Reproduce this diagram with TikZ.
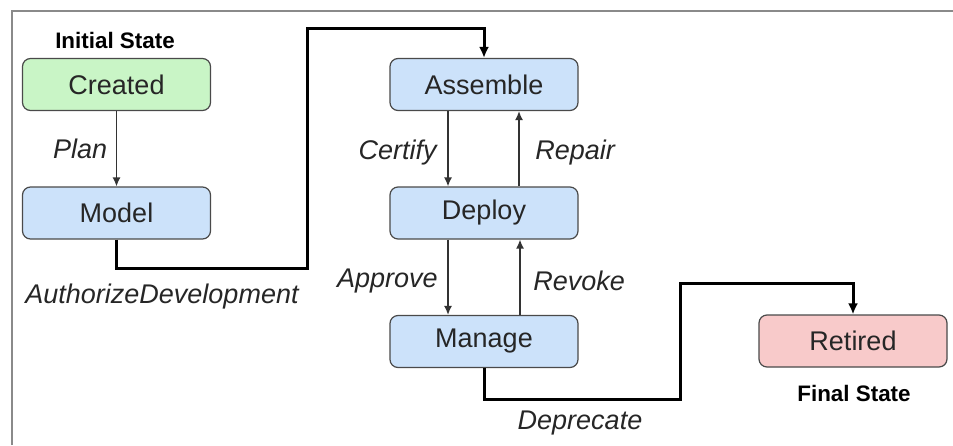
\documentclass[tikz,border=0pt]{standalone}
\usepackage{fontspec}
\setmainfont{Liberation Sans}
\usepackage{xcolor}
\usetikzlibrary{
	arrows.meta,
	positioning,
	calc
}

\definecolor{framegray}{HTML}{8A8A8A}
\definecolor{boxline}{HTML}{4A4A4A}
\definecolor{startfill}{HTML}{C9F5C6}
\definecolor{workfill}{HTML}{CCE2FA}
\definecolor{endfill}{HTML}{F8CACA}

\begin{document}
\begin{tikzpicture}[x=0.5pt,y=-0.5pt,>={Latex[length=4.5pt,width=4pt]},
		state/.style={draw=boxline,line width=0.6pt,rounded corners=4pt,
			minimum width=94pt,minimum height=26pt,inner sep=0pt,
			text=black!85,font=\fontsize{13.5}{16}\selectfont},
		trans/.style={font=\fontsize{13.5}{16}\selectfont\itshape,text=black!85},
		tag/.style={font=\fontsize{11.2}{13}\selectfont\bfseries},
		step arrow/.style={->,draw=black!80,line width=0.7pt},
		jump arrow/.style={-{Latex[length=5.5pt,width=5pt]},line width=1.5pt}]
				
				\useasboundingbox (0,0) rectangle (953,445);
				
				% Frame
				\draw[framegray,line width=1pt] (12,445) -- (12,11) -- (953,11);
				
				% Left column
				\node[state,fill=startfill] (created) at (116.5,84.5) {Created};
				\node[state,fill=workfill] (model) at (116.5,213) {Model};
				\node[tag] (initial) at (115,40) {Initial State};
				
				\draw[step arrow] (created) -- node[trans,left=1pt] {Plan} (model);
				
				% Middle column
				\node[state,fill=workfill] (assemble) at (484,84.5) {Assemble};
				\node[state,fill=workfill] (deploy) at (484,213) {Deploy};
				\node[state,fill=workfill] (manage) at (484,341.5) {Manage};
				
				\draw[step arrow] ([xshift=-18pt]assemble.south) -- node[trans,left=2pt,yshift=-2pt] {Certify} ([xshift=-18pt]deploy.north);
				\draw[step arrow] ([xshift=17.5pt]deploy.north) -- node[trans,right=4.5pt,yshift=-2pt] {Repair} ([xshift=17.5pt]assemble.south);
				\draw[step arrow] ([xshift=-18pt]deploy.south) -- node[trans,left=1.5pt,yshift=-2pt] {Approve} ([xshift=-18pt]manage.north);
				\draw[step arrow] ([xshift=18pt]manage.north) -- node[trans,right=3pt,yshift=-2pt] {Revoke} ([xshift=18pt]deploy.south);
				
				% Right column
				\node[state,fill=endfill] (retired) at (853,341) {Retired};
				\node[tag] (final) at (854,393) {Final State};
				
				% Long transitions
				\coordinate (devtop) at (307,28);
				\coordinate (deptop) at (680,283);
				
				\draw[jump arrow] (model.south) -- ++(0,29) -| (devtop) -| (assemble.north);
				\node[trans] (authorize) at (162,297) {AuthorizeDevelopment};
				
				\draw[jump arrow] (manage.south) -- ++(0,31) -| (deptop) -| (retired.north);
				\node[trans] (deprecate) at (580,423) {Deprecate};
				
			\end{tikzpicture}
\end{document}
